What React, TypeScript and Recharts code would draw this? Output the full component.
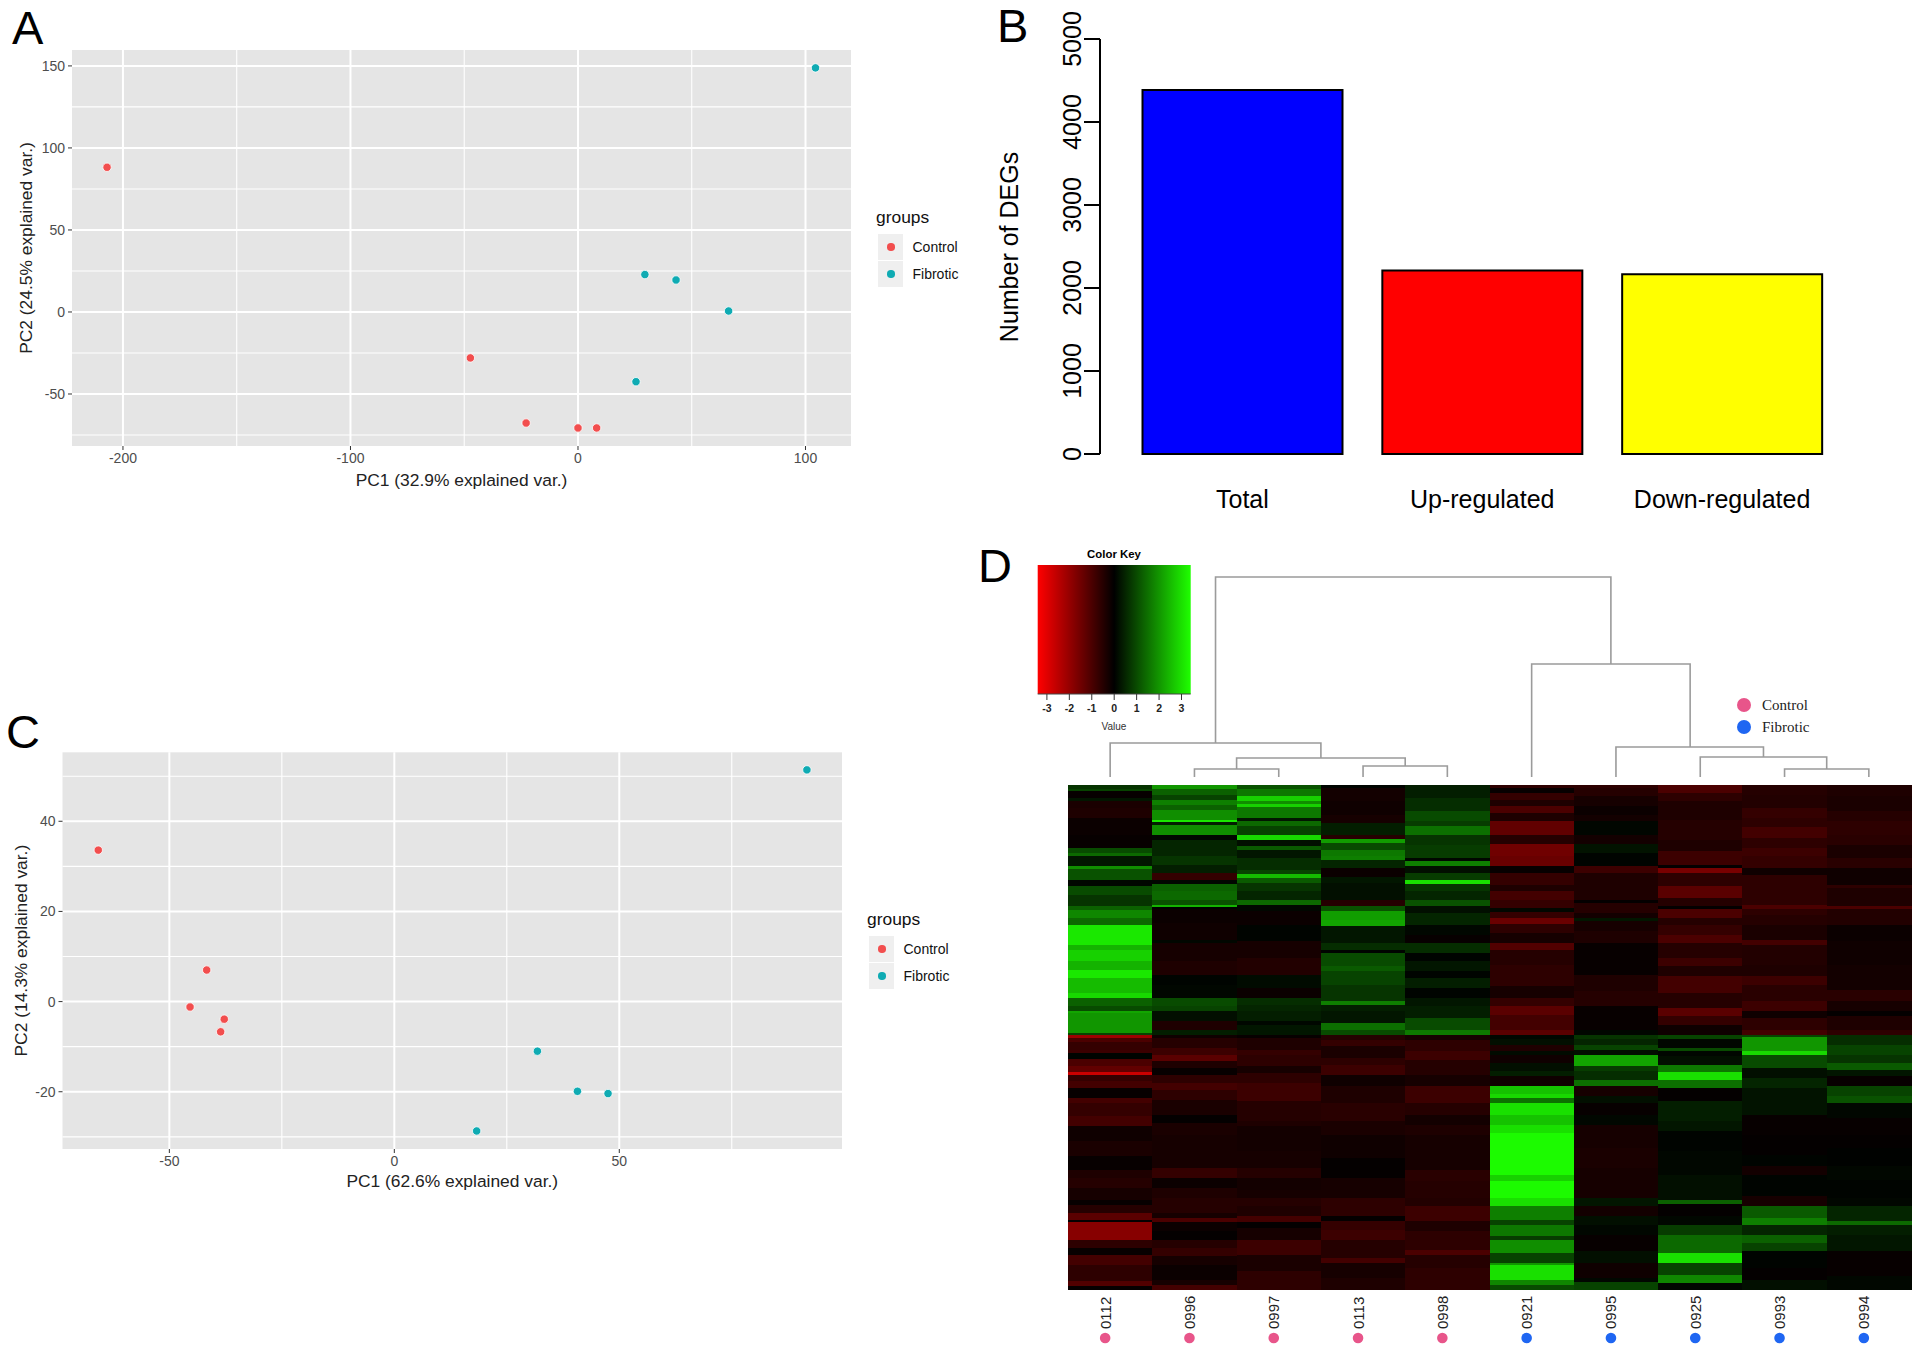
import React from "react";
import {
  Area, AreaChart, Bar, BarChart, CartesianGrid, Cell, Label, Legend, Line, LineChart,
  Scatter, ScatterChart, XAxis, YAxis,
} from "recharts";

const SANS = "'Liberation Sans', Arial, sans-serif";
const SERIF = "'Liberation Serif', serif";
const PAGE_W = 1920;
const PAGE_H = 1350;

// ---------- Panel A ----------
const pcaAControl = [
  { x: -207, y: 88.2 }, { x: -47.3, y: -28 }, { x: -22.8, y: -67.7 }, { x: 0, y: -70.7 }, { x: 8.2, y: -70.7 },
];
const pcaAFibrotic = [
  { x: 104.4, y: 148.8 }, { x: 29.4, y: 22.8 }, { x: 43.1, y: 19.5 }, { x: 66.2, y: 0.6 }, { x: 25.5, y: -42.5 },
];
const pcaAXMajor = [-200, -100, 0, 100];
const pcaAXMinor = [-150, -50, 50];
const pcaAYMajor = [-50, 0, 50, 100, 150];
const pcaAYMinor = [-75, -25, 25, 75, 125];

// ---------- Panel C ----------
const pcaCControl = [
  { x: -65.8, y: 33.6 }, { x: -41.7, y: 7 }, { x: -45.4, y: -1.2 }, { x: -37.8, y: -3.9 }, { x: -38.6, y: -6.7 },
];
const pcaCFibrotic = [
  { x: 91.7, y: 51.4 }, { x: 31.8, y: -11 }, { x: 40.7, y: -19.9 }, { x: 47.5, y: -20.4 }, { x: 18.3, y: -28.7 },
];
const pcaCXMajor = [-50, 0, 50];
const pcaCXMinor = [-25, 25, 75];
const pcaCYMajor = [-20, 0, 20, 40];
const pcaCYMinor = [-30, -10, 10, 30, 50];

// ---------- Panel B ----------
const degCategories = ["Total", "Up-regulated", "Down-regulated"];
const degCounts = [4385, 2211, 2165];
const degColors = ["#0000ff", "#ff0000", "#ffff00"];
const degTicks = [0, 1000, 2000, 3000, 4000, 5000];

// ---------- Panel D ----------
const sampleNames = ["0112", "0996", "0997", "0113", "0998", "0921", "0995", "0925", "0993", "0994"];
const sampleGroups = ["Control", "Control", "Control", "Control", "Control", "Fibrotic", "Fibrotic", "Fibrotic", "Fibrotic", "Fibrotic"];
const keyTicks = [-3, -2, -1, 0, 1, 2, 3];
const keyRange = [{ x: -3.41, y: 1 }, { x: 3.41, y: 1 }];

// merges: left/right child position on the leaf axis, child heights, merge height
const dendroMerges = [
  { lx: 1.5, ly: 0, rx: 2.5, ry: 0, h: 8 },
  { lx: 3.5, ly: 0, rx: 4.5, ry: 0, h: 11 },
  { lx: 2, ly: 8, rx: 4, ry: 11, h: 19 },
  { lx: 0.5, ly: 0, rx: 3, ry: 19, h: 34 },
  { lx: 8.5, ly: 0, rx: 9.5, ry: 0, h: 8 },
  { lx: 7.5, ly: 0, rx: 9, ry: 8, h: 20 },
  { lx: 6.5, ly: 0, rx: 8.25, ry: 20, h: 30 },
  { lx: 5.5, ly: 0, rx: 7.38, ry: 30, h: 113 },
  { lx: 1.75, ly: 34, rx: 6.44, ry: 113, h: 200 },
];

// Heatmap stripes: [end of stripe, value]. Upper block runs 0..750, lower block 0..765.
const upper0112 = [[12,.7],[18,.9],[40,-.1],[48,.3],[70,-.35],[100,-.4],[150,-.15],[190,-.1],[205,1],[215,1.4],[245,.3],[252,1.9],[285,1.1],[305,.1],[330,1],[365,.7],[375,1.3],[400,1.8],[420,1.4],[480,3.1],[495,2.4],[530,2.8],[555,2.4],[580,3.1],[625,2.5],[640,2.9],[665,1.3],[678,1],[685,2.2],[745,2],[750,.9]];
const upper0996 = [[12,2],[30,1.3],[45,.9],[60,1.7],[75,1.3],[105,1.9],[112,3.1],[120,.4],[150,1.9],[165,.1],[180,.5],[215,.5],[240,.7],[265,.4],[285,-.7],[297,.1],[320,1.3],[345,1.4],[360,1.1],[366,2.4],[372,.05],[415,-.15],[465,-.2],[475,.1],[530,-.3],[570,-.4],[600,.05],[640,.1],[665,1],[680,.9],[710,.2],[735,-.4],[750,.4]];
const upper0997 = [[12,1.1],[35,1.6],[48,2.8],[58,1.9],[66,2.8],[100,1.6],[108,.3],[125,1.4],[150,.9],[165,2.9],[185,.2],[195,1.2],[220,.3],[255,.6],[268,.9],[280,2.5],[295,1.2],[320,.7],[345,.5],[362,1.4],[380,.1],[420,-.15],[470,.05],[520,-.3],[570,-.45],[610,.15],[640,-.15],[660,.6],[680,.5],[710,.4],[720,.1],[750,.3]];
const upper0113 = [[10,.05],[50,-.25],[90,-.2],[115,-.3],[150,.4],[163,-.5],[175,2.1],[195,1],[215,1.6],[225,1.7],[250,.5],[278,-.15],[295,.3],[345,.2],[365,-.5],[378,1.1],[405,2.1],[425,2.2],[450,.3],[475,.3],[497,.6],[505,.05],[545,1],[560,1.2],[600,.9],[650,.7],[660,1.7],[680,.4],[715,.3],[735,1.5],[750,1]];
const upper0998 = [[40,.4],[80,.6],[108,1],[125,.8],[150,1.5],[180,.7],[220,.8],[228,.1],[245,1.7],[265,.2],[285,.8],[298,3],[320,.7],[345,.5],[365,1.1],[385,.2],[420,.5],[450,.1],[475,-.1],[505,.6],[530,.05],[560,.3],[580,.05],[610,.4],[640,.05],[665,.3],[700,.4],[735,1],[750,1.6]];
const upper0921 = [[10,-.6],[25,-.1],[45,-.7],[65,-.4],[85,-1],[110,-.4],[150,-1.3],[178,-.5],[215,-1.5],[245,-1.4],[265,-.1],[300,-.7],[320,-.4],[345,-.9],[370,-.7],[382,.1],[400,-.7],[418,-1.4],[445,-.6],[475,-.3],[497,-1.1],[540,-.5],[570,-.6],[605,-.6],[640,-.3],[665,-.7],[690,-1.2],[735,-.9],[750,-1.2]];
const upper0995 = [[10,-.6],[35,-.5],[65,-.3],[90,-.15],[110,-.25],[150,.08],[178,-.25],[205,.25],[245,.05],[265,-.8],[300,-.4],[345,-.4],[355,-.05],[385,-.5],[400,-.25],[410,.3],[440,-.3],[475,-.4],[520,-.1],[572,-.1],[620,-.4],[665,-.5],[710,-.1],[735,-.1],[750,.1]];
const upper0925 = [[25,-1],[50,-.6],[75,-.4],[105,-.4],[130,-.5],[165,-.5],[200,-.4],[240,-.8],[250,-.05],[265,-1.6],[305,-.6],[340,-1.2],[365,-.5],[372,-.05],[400,-1],[420,-.5],[450,-.7],[475,-1],[520,-.5],[545,-.8],[575,-.4],[625,-.9],[670,-.5],[695,-1.2],[720,-.7],[750,-.2]];
const upper0993 = [[30,-.5],[70,-.45],[100,-.7],[128,-.6],[160,-.9],[190,-.6],[215,-.8],[250,-.7],[270,-.2],[315,-.6],[360,-.6],[372,-1],[390,-.6],[420,-.5],[465,-.35],[480,-.9],[540,-.45],[575,-.4],[600,-.8],[650,-.55],[680,-.8],[700,-.2],[735,-.6],[750,-.9]];
const upper0994 = [[35,-.4],[80,-.35],[110,-.5],[150,-.6],[180,-.55],[220,-.35],[250,-.55],[300,-.2],[310,-.6],[365,-.4],[373,-1],[420,-.45],[470,-.15],[540,-.2],[615,-.25],[650,-.55],[680,-.3],[695,-.05],[735,-.4],[750,-.6]];

const lower0112 = [[10,-2.1],[22,-1],[45,-.7],[55,-.8],[72,.05],[95,-1],[112,-1.3],[120,-2.7],[140,-.7],[160,-.9],[190,-.1],[205,-.9],[245,-.7],[275,-.9],[320,-.2],[365,-.35],[405,-.1],[430,-.4],[460,-.5],[495,-.3],[510,-.1],[535,-.5],[555,-1.2],[562,-.05],[615,-1.8],[640,-.6],[660,-.1],[690,-.9],[740,-.6],[755,-1.1],[765,-.1]];
const lower0996 = [[10,-.2],[40,-.5],[62,-.8],[78,-1.2],[100,-.4],[120,-.1],[145,-.6],[165,-.9],[195,-.6],[240,-.35],[265,-.05],[300,-.35],[345,-.3],[400,-.3],[430,-.7],[460,-.15],[490,-.4],[535,-.5],[550,-.3],[562,-1],[590,-.15],[615,-.05],[640,-.5],[665,-.7],[690,-.3],[735,-.15],[752,-.3],[765,-.9]];
const lower0997 = [[10,-.1],[45,-.4],[60,-.7],[95,-.6],[115,-.3],[145,-.6],[200,-.8],[260,-.5],[275,-.4],[350,-.25],[400,-.3],[430,-.5],[465,-.25],[490,-.3],[515,-.5],[545,-.4],[562,-.9],[580,-.05],[615,-.3],[660,-.8],[710,-.35],[765,-.6]];
const lower0113 = [[15,-.5],[35,-.7],[70,-.35],[90,-.6],[120,-.8],[155,-.2],[205,-.4],[260,-.55],[300,-.35],[370,-.2],[430,-.05],[490,-.3],[545,-.6],[558,-.05],[585,-.7],[615,-.8],[670,-.5],[685,-.9],[730,-.3],[765,-.4]];
const lower0998 = [[15,-.3],[50,-.6],[75,-.8],[120,-.5],[155,-.3],[205,-.8],[240,-.5],[270,-.25],[300,-.4],[405,-.3],[440,-.55],[490,-.5],[515,-.45],[560,-.8],[590,-.4],[645,-.6],[660,-1],[700,-.5],[765,-.6]];
const lower0921 = [[12,.1],[30,.2],[50,-.4],[62,.15],[85,-.2],[110,.2],[125,.4],[155,-.2],[178,2.6],[190,2.9],[205,1.5],[240,3],[270,2.6],[295,3],[420,3.35],[440,2.8],[490,3.35],[515,3],[555,1.7],[572,.9],[605,1.6],[615,.8],[655,1.9],[685,.9],[690,2],[735,3],[752,1.8],[765,1]];
const lower0995 = [[12,.7],[30,.5],[45,.9],[62,.2],[95,2.2],[108,.8],[135,.6],[155,1.5],[185,-.3],[205,.2],[240,-.1],[270,.1],[340,-.3],[400,-.35],[430,-.3],[490,-.3],[515,.3],[545,-.25],[570,.2],[600,.1],[650,-.1],[685,.2],[730,-.2],[742,.1],[765,.9]];
const lower0925 = [[12,.9],[40,.1],[50,1],[65,.1],[90,.2],[112,1.6],[135,3],[160,1.5],[200,-.05],[260,.4],[290,.3],[350,.05],[420,.1],[495,.2],[508,1.3],[545,-.05],[572,.1],[600,.8],[655,1.4],[685,3],[720,.9],[745,1.8],[765,.1]];
const lower0993 = [[8,.9],[50,2],[62,2.9],[100,1],[130,.2],[160,.5],[240,.25],[300,-.1],[360,-.05],[395,.05],[420,-.25],[485,.05],[515,-.3],[550,1.2],[570,1.7],[600,.5],[625,1.3],[650,.9],[700,.05],[735,-.05],[765,.2]];
const lower0994 = [[30,.6],[60,.9],[85,.7],[105,1.2],[125,.3],[155,-.1],[185,.9],[205,1.1],[250,.1],[300,-.1],[340,-.05],[395,.03],[435,.1],[490,.05],[515,.1],[560,.5],[572,1.4],[600,.4],[650,.3],[690,-.1],[725,-.1],[765,.1]];

const upperBlocks = [upper0112, upper0996, upper0997, upper0113, upper0998, upper0921, upper0995, upper0925, upper0993, upper0994];
const lowerBlocks = [lower0112, lower0996, lower0997, lower0113, lower0998, lower0921, lower0995, lower0925, lower0993, lower0994];
const UPPER_SPAN = 750;
const HEAT_SPAN = 1515;

const stripes = (stops: number[][], col: number, offset: number) => {
  let start = 0;
  return stops.map(([end, v]) => {
    const rec = { x: col + 0.5, y: offset + (start + end) / 2, span: end - start, v };
    start = end;
    return rec;
  });
};
const heatData = sampleNames.flatMap((_, i) => [
  ...stripes(upperBlocks[i], i, 0),
  ...stripes(lowerBlocks[i], i, UPPER_SPAN),
]);

const heatColor = (v: number) => {
  const c = Math.min(255, Math.round((Math.abs(v) / 3.41) * 255));
  return v < 0 ? `rgb(${c},0,0)` : `rgb(${Math.round(c * 0.11)},${c},0)`;
};

const frame = (x: number, y: number, w: number, h: number, yw = 0, xh = 0) => ({
  left: x - yw, top: y, right: PAGE_W - x - w, bottom: PAGE_H - y - h - xh,
});

const Layer = ({ children }: { children: React.ReactNode }) => (
  <div style={{ position: "absolute", left: 0, top: 0, width: PAGE_W, height: PAGE_H }}>{children}</div>
);

const TextAt = ({ x, y, size, children, weight, color, family, center }: any) => (
  <div style={{
    position: "absolute", left: x, top: y, fontSize: size, lineHeight: `${size}px`, fontWeight: weight ?? 400,
    color: color ?? "#000", fontFamily: family ?? SANS, whiteSpace: "nowrap",
    transform: center ? "translateX(-50%)" : undefined,
  }}>{children}</div>
);

const COLORS = { Control: "#f24e4e", Fibrotic: "#0fabb3" };

const PcaLegend = ({ payload }: any) => (
  <div style={{ position: "relative", fontFamily: SANS, width: 100, height: 100 }}>
    <div style={{ position: "absolute", left: 0, top: 0, fontSize: 17.4, lineHeight: "22px", color: "#111" }}>groups</div>
    {(payload ?? []).map((p: any, i: number) => (
      <div key={p.value} style={{ position: "absolute", left: 2, top: 28 + i * 27, width: 25, height: 26, background: "#efefef" }}>
        <div style={{ position: "absolute", left: 9, top: 9, width: 7.5, height: 7.5, borderRadius: "50%", background: p.color }} />
        <div style={{ position: "absolute", left: 34.5, top: 4, fontSize: 14, lineHeight: "18px", color: "#111", whiteSpace: "nowrap" }}>{p.value}</div>
      </div>
    ))}
  </div>
);

const dot = (color: string) => (p: any) => (
  <circle cx={p.cx} cy={p.cy} r={4.2} fill={color} stroke="#fff" strokeWidth={0.8} />
);

const PcaPanel = ({ control, fibrotic, box, xDomain, yDomain, xMajor, xMinor, yMajor, yMinor, xTitle, yTitle, legendAt, yTitleX, xTitleOffset }: any) => (
  <Layer>
    <ScatterChart width={PAGE_W} height={PAGE_H} margin={frame(box.x, box.y, box.w, box.h, 60, 50)}>
      <CartesianGrid fill="#e5e5e5" stroke="#fff" strokeWidth={1.1} horizontalValues={yMinor} verticalValues={xMinor} />
      <CartesianGrid stroke="#fff" strokeWidth={2} horizontalValues={yMajor} verticalValues={xMajor} />
      <XAxis type="number" dataKey="x" domain={xDomain} ticks={xMajor} allowDataOverflow interval={0}
        tickSize={4} tickMargin={3} axisLine={false} tickLine={{ stroke: "#333" }}
        tick={{ fontSize: 14, fill: "#4d4d4d", fontFamily: SANS }} height={50}>
        <Label content={({ viewBox }: any) => (
          <text x={viewBox.x + viewBox.width / 2} y={box.y + box.h + xTitleOffset} textAnchor="middle" fontSize={17.4} fontFamily={SANS} fill="#222">{xTitle}</text>
        )} />
      </XAxis>
      <YAxis type="number" dataKey="y" domain={yDomain} ticks={yMajor} allowDataOverflow interval={0}
        tickSize={4} tickMargin={3} axisLine={false} tickLine={{ stroke: "#333" }}
        tick={{ fontSize: 14, fill: "#4d4d4d", fontFamily: SANS }} width={60}>
        <Label content={() => {
          const cx = yTitleX;
          const cy = box.y + box.h / 2;
          return <text x={cx} y={cy} transform={`rotate(-90 ${cx} ${cy})`} textAnchor="middle" dominantBaseline="central" fontSize={17.4} fontFamily={SANS} fill="#222">{yTitle}</text>;
        }} />
      </YAxis>
      <Scatter name="Control" data={control} fill={COLORS.Control} shape={dot(COLORS.Control)} isAnimationActive={false} />
      <Scatter name="Fibrotic" data={fibrotic} fill={COLORS.Fibrotic} shape={dot(COLORS.Fibrotic)} isAnimationActive={false} />
      <Legend layout="vertical" align="center" verticalAlign="middle"
        wrapperStyle={{ position: "absolute", left: legendAt.x, top: legendAt.y, width: 100, height: 100, right: "auto", bottom: "auto" }}
        content={(p: any) => <PcaLegend payload={p.payload} />} />
    </ScatterChart>
  </Layer>
);

const degData = degCategories.map((name, i) => ({ name, count: degCounts[i] }));

const DegTick = ({ x, y, payload }: any) => {
  const tx = x - 1;
  return (
    <text x={tx} y={y} transform={`rotate(-90 ${tx} ${y})`} textAnchor="middle" fontSize={25} fontFamily={SANS} fill="#000">
      {payload.value}
    </text>
  );
};

const DegPanel = () => (
  <Layer>
    <BarChart width={PAGE_W} height={PAGE_H} data={degData} margin={frame(1100, 39, 742, 415, 90, 80)} barSize={200}>
      <XAxis dataKey="name" padding={{ left: 22.5, right: 0 }} axisLine={false} tickLine={false} interval={0}
        tick={{ fontSize: 25, fontFamily: SANS, fill: "#000" }} tickMargin={30} height={80} />
      <YAxis domain={[0, 5000]} ticks={degTicks} interval={0} tickSize={16} tick={<DegTick />} width={90}
        axisLine={{ stroke: "#000", strokeWidth: 2 }} tickLine={{ stroke: "#000", strokeWidth: 2 }}>
        <Label content={() => (
          <text x={1009} y={247} transform="rotate(-90 1009 247)" textAnchor="middle" dominantBaseline="central" fontSize={25} fontFamily={SANS} fill="#000">Number of DEGs</text>
        )} />
      </YAxis>
      <Bar dataKey="count" stroke="#000" strokeWidth={2} isAnimationActive={false}>
        {degColors.map((c) => <Cell key={c} fill={c} />)}
      </Bar>
    </BarChart>
  </Layer>
);

const ColorKey = () => (
  <Layer>
    <AreaChart width={PAGE_W} height={PAGE_H} data={keyRange} margin={frame(1037.7, 565, 153, 129, 0, 46)}>
      <defs>
        <linearGradient id="keyRamp" x1="0" y1="0" x2="1" y2="0">
          <stop offset="0" stopColor="#ff0000" />
          <stop offset="0.5" stopColor="#000000" />
          <stop offset="1" stopColor="#1fff00" />
        </linearGradient>
      </defs>
      <XAxis type="number" dataKey="x" domain={[-3.41, 3.41]} ticks={keyTicks} interval={0} tickSize={6} tickMargin={5}
        axisLine={{ stroke: "#444", strokeWidth: 1 }} tickLine={{ stroke: "#333", strokeWidth: 1 }}
        tick={{ fontSize: 10.5, fontFamily: SANS, fill: "#222", fontWeight: 700 }} height={46}>
        <Label content={() => (
          <text x={1114} y={730} textAnchor="middle" fontSize={10} fontFamily={SANS} fill="#333">Value</text>
        )} />
      </XAxis>
      <YAxis hide domain={[0, 1]} />
      <Area dataKey="y" type="linear" fill="url(#keyRamp)" fillOpacity={1} stroke="none" isAnimationActive={false} dot={false} />
    </AreaChart>
  </Layer>
);

const Dendrogram = () => (
  <Layer>
    <LineChart width={PAGE_W} height={PAGE_H} margin={frame(1068, 567, 843, 210)}>
      <XAxis hide type="number" dataKey="x" domain={[0, 10]} />
      <YAxis hide type="number" domain={[0, 210]} />
      {dendroMerges.map((m, i) => (
        <Line key={i} dataKey="y" type="linear" dot={false} stroke="#9b9b9b" strokeWidth={1.6} isAnimationActive={false}
          legendType="none"
          data={[{ x: m.lx, y: m.ly }, { x: m.lx, y: m.h }, { x: m.rx, y: m.h }, { x: m.rx, y: m.ry }]} />
      ))}
    </LineChart>
  </Layer>
);

const PINK = "#e8558a";
const BLUE = "#1f66f2";

const HeatTick = ({ x, payload }: any) => {
  const i = Math.floor(payload.value);
  const tx = x - 5;
  return (
    <g>
      <text x={tx} y={1329} transform={`rotate(-90 ${tx} 1329)`} dominantBaseline="central" fontSize={15} fontFamily={SANS} fill="#222">
        {sampleNames[i]}
      </text>
      <circle cx={tx} cy={1338} r={5.3} fill={sampleGroups[i] === "Control" ? PINK : BLUE} />
    </g>
  );
};

const heatShape = (p: any) => {
  const h = (p.payload.span / HEAT_SPAN) * 505 + 0.4;
  return <rect x={p.cx - 42.15} y={p.cy - h / 2} width={85} height={h} fill={heatColor(p.payload.v)} shapeRendering="crispEdges" />;
};

const Heatmap = () => (
  <Layer>
    <ScatterChart width={PAGE_W} height={PAGE_H} margin={frame(1068, 785, 843, 505, 0, 56)}>
      <XAxis type="number" dataKey="x" domain={[0, 10]} ticks={sampleNames.map((_, i) => i + 0.5)} interval={0}
        axisLine={false} tickLine={false} tick={<HeatTick />} height={56} />
      <YAxis hide type="number" dataKey="y" domain={[0, HEAT_SPAN]} reversed />
      <Scatter data={heatData} shape={heatShape} isAnimationActive={false} />
    </ScatterChart>
  </Layer>
);

const HeatLegend = () => (
  <>
    {["Control", "Fibrotic"].map((g, i) => (
      <React.Fragment key={g}>
        <div style={{ position: "absolute", left: 1737, top: 698 + i * 22, width: 14, height: 14, borderRadius: "50%", background: g === "Control" ? PINK : BLUE }} />
        <TextAt x={1762} y={697.5 + i * 22} size={15} family={SERIF} color="#222">{g}</TextAt>
      </React.Fragment>
    ))}
  </>
);

export default function App() {
  return (
    <div style={{ position: "absolute", left: 0, top: 0, width: PAGE_W, height: PAGE_H, background: "#fff", overflow: "hidden" }}>
      <PcaPanel control={pcaAControl} fibrotic={pcaAFibrotic} box={{ x: 72, y: 50, w: 779, h: 396 }}
        xDomain={[-222.4, 120]} yDomain={[-81.7, 159.7]} xMajor={pcaAXMajor} xMinor={pcaAXMinor} yMajor={pcaAYMajor} yMinor={pcaAYMinor}
        xTitle="PC1 (32.9% explained var.)" yTitle="PC2 (24.5% explained var.)" legendAt={{ x: 876, y: 206 }} yTitleX={26} xTitleOffset={40} />
      <PcaPanel control={pcaCControl} fibrotic={pcaCFibrotic} box={{ x: 62.5, y: 752.3, w: 779.5, h: 396.7 }}
        xDomain={[-73.75, 99.5]} yDomain={[-32.7, 55.3]} xMajor={pcaCXMajor} xMinor={pcaCXMinor} yMajor={pcaCYMajor} yMinor={pcaCYMinor}
        xTitle="PC1 (62.6% explained var.)" yTitle="PC2 (14.3% explained var.)" legendAt={{ x: 867, y: 908 }} yTitleX={21} xTitleOffset={38} />
      <DegPanel />
      <ColorKey />
      <Dendrogram />
      <Heatmap />
      <HeatLegend />
      <TextAt x={1114} y={549} size={11.4} weight={700} center>Color Key</TextAt>
      <TextAt x={12} y={4} size={47}>A</TextAt>
      <TextAt x={997} y={2} size={47}>B</TextAt>
      <TextAt x={6} y={708} size={47}>C</TextAt>
      <TextAt x={978} y={542} size={47}>D</TextAt>
    </div>
  );
}
